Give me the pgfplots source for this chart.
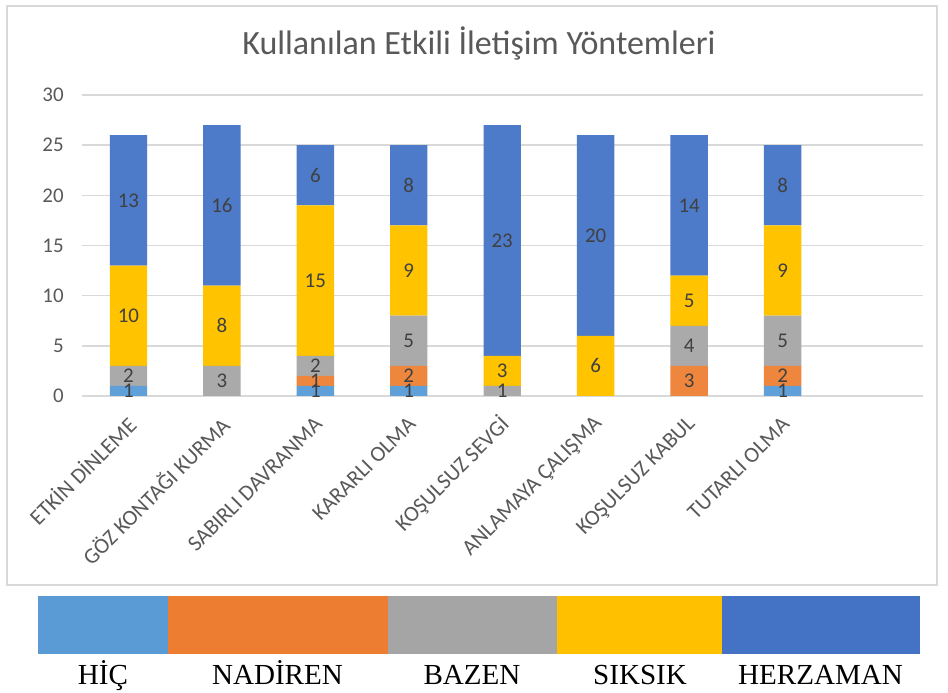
\documentclass[border=0pt]{standalone}
\usepackage{pgfplots}
\pgfplotsset{compat=1.18}
\usepackage{pgfplotstable}
\usepackage{fontspec}
\setmainfont{Carlito}
\newfontfamily\timesf{Liberation Serif}
\definecolor{chic}{HTML}{5B9BD5}
\definecolor{cnad}{HTML}{ED7D31}
\definecolor{cbaz}{HTML}{A5A5A5}
\definecolor{csik}{HTML}{FFC000}
\definecolor{cher}{HTML}{4472C4}
\definecolor{bhic}{HTML}{5FA0D9}
\definecolor{bnad}{HTML}{EE873D}
\definecolor{bbaz}{HTML}{AAAAAA}
\definecolor{bsik}{HTML}{FFC300}
\definecolor{bher}{HTML}{4D7BC9}
\definecolor{gridgray}{HTML}{D9D9D9}
\definecolor{tickgray}{HTML}{595959}
\definecolor{labgray}{HTML}{404040}
\pgfplotstableread{
x hic nad baz sik her
0 1 0 2 10 13
1 0 0 3 8 16
2 1 1 2 15 6
3 1 2 5 9 8
4 0 0 1 3 23
5 0 0 0 6 20
6 0 3 4 5 14
7 1 2 5 9 8
}\datatable
\begin{document}
\begin{tikzpicture}[x=0.75pt,y=0.75pt]
\path[use as bounding box] (0,0) rectangle (948,692);
\fill[white] (0,0) rectangle (948,692);
\draw[gridgray, line width=1.5pt] (7,107) rectangle (937,686);
\node[anchor=base, text=tickgray, font=\fontsize{25.5}{30}\selectfont] at (479,637) {Kullanılan Etkili İletişim Yöntemleri};
\begin{axis}[
  at={(61.3pt,222pt)}, anchor=south west,
  scale only axis, width=630.75pt, height=225.75pt,
  ybar stacked, bar width=0.4,
  xmin=-0.5, xmax=8.5, ymin=0, ymax=30,
  ytick={0,5,...,30},
  xtick={0,...,7},
  xticklabels={ETKİN DİNLEME, GÖZ KONTAĞI KURMA, SABIRLI DAVRANMA, KARARLI OLMA, KOŞULSUZ SEVGİ, ANLAMAYA ÇALIŞMA, KOŞULSUZ KABUL, TUTARLI OLMA},
  axis line style={draw=none},
  major tick length=0pt,
  ymajorgrids, grid style={draw=gridgray, line width=1.2pt},
  tick label style={font=\fontsize{15.7}{18}\selectfont, text=tickgray},
  /pgf/number format/assume math mode=true,
  yticklabel style={xshift=-10pt},
  xticklabel style={xshift=2.5pt, yshift=-18.5pt, rotate=45, anchor=east, inner sep=0pt, font=\fontsize{16.5}{18}\selectfont},
  clip=false,
  nodes near coords={\pgfmathfloatifflags{\pgfplotspointmeta}{0}{}{\pgfmathprintnumber{\pgfplotspointmeta}}},
  every node near coord/.append style={font=\fontsize{15.7}{18}\selectfont, text=labgray, anchor=center},
]
\addplot[fill=bhic, draw=none] table[x=x,y=hic]{\datatable};
\addplot[fill=bnad, draw=none] table[x=x,y=nad]{\datatable};
\addplot[fill=bbaz, draw=none] table[x=x,y=baz]{\datatable};
\addplot[fill=bsik, draw=none] table[x=x,y=sik]{\datatable};
\addplot[fill=bher, draw=none] table[x=x,y=her]{\datatable};
\end{axis}
\fill[chic] (38,38) rectangle (167.7,96);
\fill[cnad] (167.7,38) rectangle (387.7,96);
\fill[cbaz] (387.7,38) rectangle (557,96);
\fill[csik] (557,38) rectangle (722,96);
\fill[cher] (722,38) rectangle (920,96);
\begin{scope}[every node/.style={anchor=base, font=\timesf\fontsize{21.8}{24}\selectfont, text=black, inner sep=0pt}]
\node at (103,8) {HİÇ};
\node at (277.5,8) {NADİREN};
\node at (472,8) {BAZEN};
\node at (640,8) {SIKSIK};
\node at (820.5,8) {HERZAMAN};
\end{scope}
\end{tikzpicture}
\end{document}
